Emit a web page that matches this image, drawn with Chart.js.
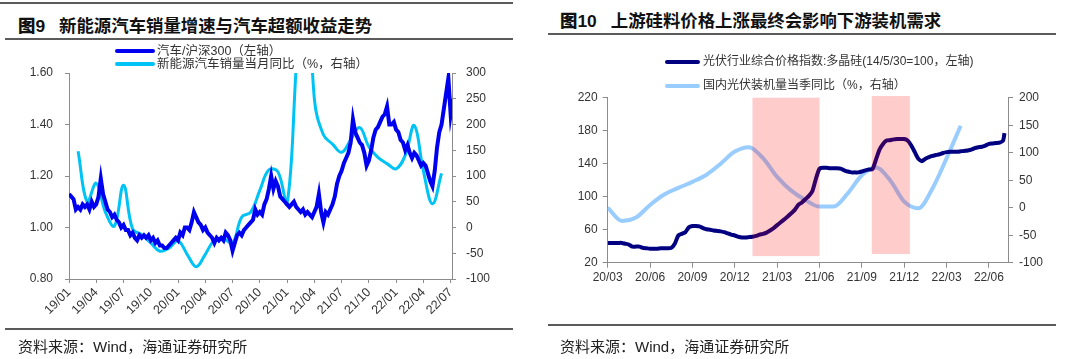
<!DOCTYPE html>
<html>
<head>
<meta charset="utf-8">
<script src="https://cdn.jsdelivr.net/npm/chart.js@4.4.0/dist/chart.umd.min.js"></script>
<style>
  body { margin:0; width:1080px; height:359px; background:#fff; overflow:hidden;
         font-family:"Liberation Sans","Noto Sans CJK SC",sans-serif; color:#222; }
  .abs { position:absolute; white-space:nowrap; }
  .title { font-weight:bold; font-size:17.4px; color:#111; font-family:"Liberation Sans","Noto Sans CJK SC",sans-serif; }
  .title b { margin-right:14px; }
  .rule { position:absolute; height:2px; background:#5a5a5a; }
  .src { font-size:15px; color:#222; }
  .lg { font-size:12.5px; color:#333; line-height:13px; }
  .mk { position:absolute; height:4px; border-radius:2px; }
  .box { position:absolute; top:0; width:540px; height:330px; }
</style>
</head>
<body>

<!-- 图9 -->
<div class="rule" style="left:0;top:2px;width:513px;"></div>
<div class="abs title" style="left:18px;top:12px;"><b>图9</b>新能源汽车销量增速与汽车超额收益走势</div>
<div class="rule" style="left:5px;top:38px;width:508px;"></div>
<div class="box" style="left:0;"><canvas id="c9"></canvas></div>
<div class="mk" style="left:115px;top:49px;width:40px;background:#0000f0;"></div>
<div class="abs lg" style="left:157px;top:45px;">汽车/沪深300（左轴）</div>
<div class="mk" style="left:115px;top:62px;width:40px;background:#00c3f5;"></div>
<div class="abs lg" style="left:157px;top:58px;">新能源汽车销量当月同比（%，右轴）</div>
<div class="rule" style="left:5px;top:328px;width:508px;"></div>
<div class="abs src" style="left:18px;top:335px;">资料来源：Wind，海通证券研究所</div>

<!-- 图10 -->
<div class="abs title" style="left:560px;top:7px;"><b>图10</b>上游硅料价格上涨最终会影响下游装机需求</div>
<div class="rule" style="left:548px;top:33px;width:508px;"></div>
<div class="box" style="left:540px;"><canvas id="c10"></canvas></div>
<div class="mk" style="left:665px;top:60px;width:35px;background:#000080;"></div>
<div class="abs lg" style="left:703px;top:55px;font-size:12px;">光伏行业综合价格指数:多晶硅(14/5/30=100，左轴)</div>
<div class="mk" style="left:665px;top:84px;width:35px;background:#99ccff;"></div>
<div class="abs lg" style="left:703px;top:79px;font-size:12px;">国内光伏装机量当季同比（%，右轴）</div>
<div class="rule" style="left:548px;top:324px;width:508px;"></div>
<div class="abs src" style="left:560px;top:335px;">资料来源：Wind，海通证券研究所</div>

<script>
// ---------- 图9 data (x = months since 2019/01) ----------
const xTicks9 = ['19/01','19/04','19/07','19/10','20/01','20/04','20/07','20/10',
                 '21/01','21/04','21/07','21/10','22/01','22/04','22/07'];
const carWeekStep = 0.25;   // roughly weekly readings
const carVsHs300 = [
  1.13,1.12,1.11,1.07,1.08,1.07,1.09,1.08,1.09,1.07,1.10,1.08,1.09,1.12,1.19,1.13,
  1.10,1.07,1.06,1.04,1.05,1.03,1.02,1.00,1.01,0.99,0.99,0.97,0.98,0.96,0.95,0.97,
  0.96,0.97,0.96,0.97,0.95,0.96,0.94,0.95,0.93,0.93,0.92,0.92,0.93,0.94,0.95,0.96,
  0.95,0.98,0.97,1.00,1.00,0.99,1.02,1.06,1.04,1.02,1.01,0.99,1.00,0.98,0.97,0.96,
  0.94,0.96,0.95,0.96,0.95,0.98,0.97,0.95,0.91,0.94,0.97,0.98,0.97,0.99,1.00,1.01,
  1.02,1.03,1.07,1.05,1.06,1.05,1.09,1.11,1.15,1.20,1.15,1.18,1.16,1.12,1.11,1.10,
  1.09,1.08,1.09,1.10,1.08,1.07,1.06,1.07,1.05,1.06,1.05,1.04,1.06,1.08,1.13,1.06,
  1.02,1.06,1.05,1.07,1.09,1.12,1.17,1.20,1.22,1.25,1.27,1.29,1.33,1.42,1.37,1.35,
  1.33,1.32,1.29,1.24,1.26,1.30,1.35,1.38,1.39,1.41,1.43,1.44,1.47,1.40,1.40,1.41,
  1.38,1.37,1.34,1.33,1.30,1.32,1.29,1.27,1.29,1.28,1.26,1.24,1.25,1.24,1.21,1.18,
  1.16,1.22,1.31,1.37,1.40,1.46,1.52,1.58,1.44,1.50
];
// monthly, plotted at month end (Jan 2019 -> 1)
const nevMonth = [1,2,3,4,5,6,7,8,9,10,11,12,13,14,15,16,17,18,19,20,21,
                  22,23,24,25,26,27,28,29,30,31,32,33,34,35,36,37,38,39,40,41];
const nevYoY = [148,50,86,30,3,82,-3,-14,-30,-46,-40,-26,-52,-76,-52,-25,-22,-30,20,30,72,
                112,108,47,310,585,250,180,162,146,170,194,157,136,124,114,140,198,110,46,105];

// ---------- 图10 data (x = months since 2020/03) ----------
const xTicks10 = ['20/03','20/06','20/09','20/12','21/03','21/06','21/09','21/12','22/03','22/06'];
const siWeekStep = 0.25;
const polySiIndex = [
  44,44,44,44,44,43,42,39.5,39.5,39.5,38,37.5,37,37,37,37.5,37.5,37.5,38,43,
  53,55,57,63,64.5,64.5,64,62,60.5,60,59,58.5,58,57,55.5,54,53,51.5,50.5,50.5,
  51,51.5,52.5,54,55,56.5,59,62,65.5,69,72.5,76,80,84,90,93,97,101,107,122,
  134,135,135,134.5,134.5,134.5,134,132,130.5,129.5,129.5,129.5,130.5,132,133,133.5,145,157,164,168,
  168.5,169.5,170,170,170,168,162,154,146,143,146,148,149.5,150.5,151.5,153,154,154.5,154.5,154.5,
  155,155.5,156,157,159,160,160.5,162,164,164.5,165,165.5,168,177
];
const pvMonth = [0,1,2,3,4,5,6,7,8,9,10,11,12,13,14,15,16,17,18,19,20,21,22,23,24,25];
const pvYoY = [0,-24,-18,5,24,36,47,60,80,102,110,90,56,31,14,2,2,26,59,73,50,11,-1,35,90,149];
// price-surge periods (months since 2020/03)
const surgeFrom = [10.25, 18.7];
const surgeTo = [15.0, 21.4];
const surgeHigh = [220, 222];
const surgeLow = [28, 30.5];

const tickFont = { family: '"Liberation Sans", Arial, sans-serif', size: 12 };
const axisGrey = '#8c8c8c';

function axisStyle(extra) {
  return Object.assign({
    border: { display: true, color: axisGrey, width: 1 },
    grid: { display: true, drawOnChartArea: false, drawTicks: true, tickLength: 4, color: axisGrey },
    ticks: { font: tickFont, color: '#333', padding: 8 }
  }, extra);
}

// ---------- chart 9 ----------
const carPoints = carVsHs300.map((v, i) => ({ x: i * carWeekStep, y: v }));
const nevPoints = nevYoY.map((v, i) => ({ x: nevMonth[i], y: v }));

new Chart(document.getElementById('c9'), {
  type: 'line',
  data: {
    datasets: [
      { label: '汽车/沪深300（左轴）', data: carPoints, yAxisID: 'y',
        borderColor: '#0000f0', borderWidth: 4, pointRadius: 0, tension: 0 },
      { label: '新能源汽车销量当月同比（%，右轴）', data: nevPoints, yAxisID: 'y1',
        borderColor: '#00c3f5', borderWidth: 3, pointRadius: 0, tension: 0.4 }
    ]
  },
  options: {
    responsive: true, maintainAspectRatio: false, animation: false,
    layout: { padding: { top: 73, left: 0, right: 0, bottom: 0 } },
    plugins: { legend: { display: false }, tooltip: { enabled: false } },
    scales: {
      x: axisStyle({
        type: 'linear', min: 0, max: 42.15,
        ticks: { font: { family: tickFont.family, size: 12.5 }, color: '#333', stepSize: 3,
                 includeBounds: false, minRotation: 45, maxRotation: 45, padding: 2,
                 callback: v => xTicks9[v / 3] },
        afterFit: s => { s.height = 51; }
      }),
      y: axisStyle({
        position: 'left', min: 0.8, max: 1.6,
        ticks: { font: tickFont, color: '#333', stepSize: 0.2, padding: 12, callback: v => v.toFixed(2) },
        afterFit: s => { s.width = 69; }
      }),
      y1: axisStyle({
        position: 'right', min: -100, max: 300,
        ticks: { font: tickFont, color: '#333', stepSize: 50, padding: 10 },
        afterFit: s => { s.width = 88; }
      })
    }
  }
});

// ---------- chart 10 ----------
const surgeShade = {
  id: 'surgeShade',
  afterDatasetsDraw(chart) {
    const { ctx, scales: { x, y } } = chart;
    ctx.save();
    ctx.fillStyle = 'rgba(255,0,0,0.2)';
    surgeFrom.forEach((s, i) => {
      const x0 = x.getPixelForValue(s), x1 = x.getPixelForValue(surgeTo[i]);
      const y0 = y.getPixelForValue(surgeHigh[i]), y1 = y.getPixelForValue(surgeLow[i]);
      ctx.fillRect(x0, y0, x1 - x0, y1 - y0);
    });
    ctx.restore();
  }
};

const siPoints = polySiIndex.map((v, i) => ({ x: Math.min(i * siWeekStep, 28.1), y: v }));
const pvPoints = pvYoY.map((v, i) => ({ x: pvMonth[i], y: v }));

new Chart(document.getElementById('c10'), {
  type: 'line',
  data: {
    datasets: [
      { label: '光伏行业综合价格指数:多晶硅(14/5/30=100，左轴)', data: siPoints, yAxisID: 'y',
        borderColor: '#000080', borderWidth: 4, pointRadius: 0, tension: 0.2 },
      { label: '国内光伏装机量当季同比（%，右轴）', data: pvPoints, yAxisID: 'y1',
        borderColor: '#99ccff', borderWidth: 4, pointRadius: 0, cubicInterpolationMode: 'monotone' }
    ]
  },
  options: {
    responsive: true, maintainAspectRatio: false, animation: false,
    layout: { padding: { top: 97.7, left: 0, right: 0, bottom: 0 } },
    plugins: { legend: { display: false }, tooltip: { enabled: false } },
    scales: {
      x: axisStyle({
        type: 'linear', min: 0, max: 28.35,
        grid: { display: true, drawOnChartArea: false, drawTicks: true, tickLength: 5, color: axisGrey },
        ticks: { font: tickFont, color: '#333', stepSize: 3, includeBounds: false,
                 maxRotation: 0, padding: 3, callback: v => xTicks10[v / 3] },
        afterFit: s => { s.height = 67.3; }
      }),
      y: axisStyle({
        position: 'left', min: 20, max: 220,
        grid: { display: true, drawOnChartArea: false, drawTicks: true, tickLength: 5, color: axisGrey },
        ticks: { font: tickFont, color: '#333', stepSize: 40, padding: 5 },
        afterFit: s => { s.width = 67.7; }
      }),
      y1: axisStyle({
        position: 'right', min: -100, max: 200,
        grid: { display: true, drawOnChartArea: false, drawTicks: true, tickLength: 5, color: axisGrey },
        ticks: { font: tickFont, color: '#333', stepSize: 50, padding: 6 },
        afterFit: s => { s.width = 72; }
      })
    }
  },
  plugins: [surgeShade]
});
</script>
</body>
</html>
